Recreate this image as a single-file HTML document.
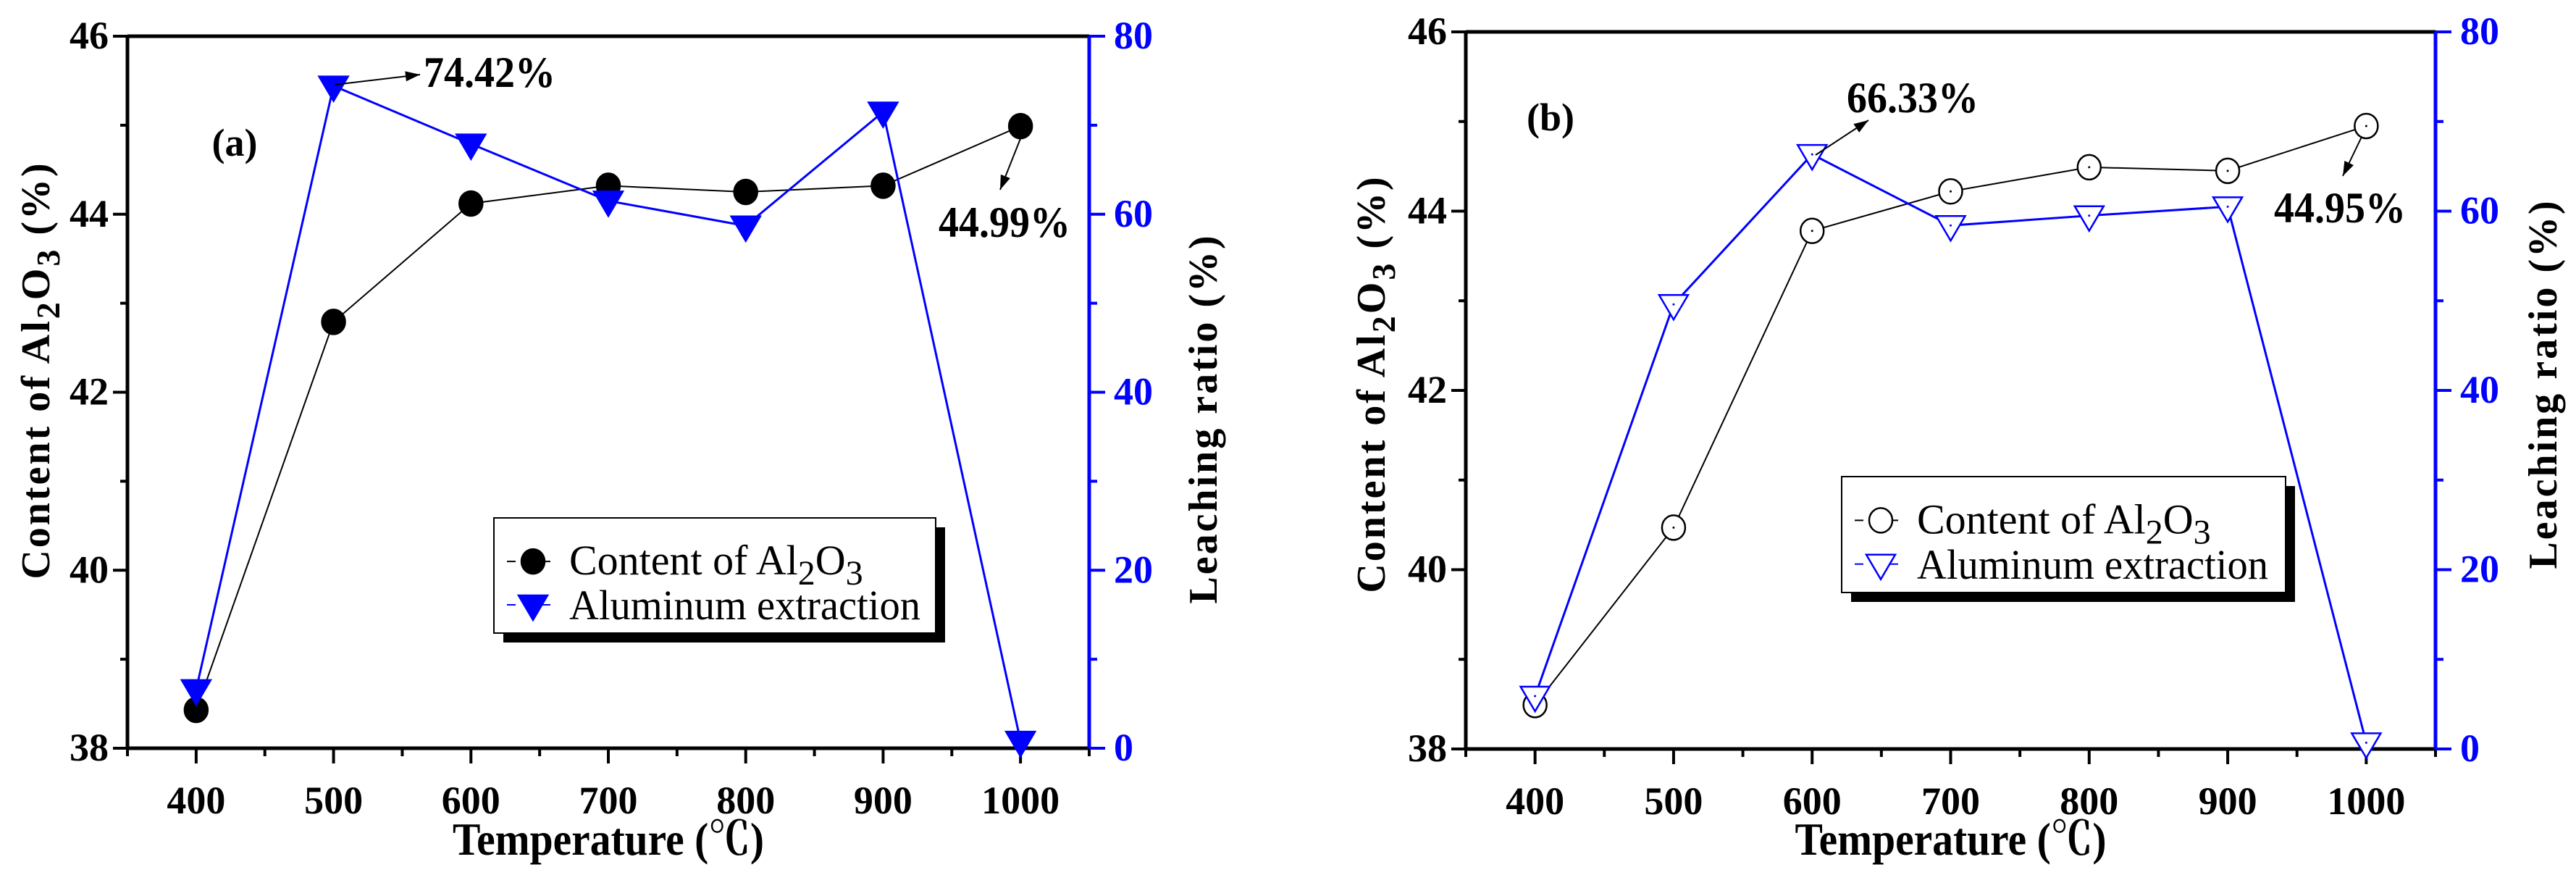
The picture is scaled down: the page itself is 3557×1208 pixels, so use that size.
<!DOCTYPE html>
<html><head><meta charset="utf-8"><style>
html,body{margin:0;padding:0;background:#fff;}
svg{display:block;}
text{font-family:"Liberation Serif","Noto Serif CJK SC",serif;}
</style></head><body>
<svg id="chart" width="3557" height="1208" viewBox="0 0 3557 1208" xmlns="http://www.w3.org/2000/svg"></svg>
<script>
const temperatures = [400, 500, 600, 700, 800, 900, 1000];
const xTicks = [400, 500, 600, 700, 800, 900, 1000];
const leftTicks = [38, 40, 42, 44, 46];
const rightTicks = [0, 20, 40, 60, 80];
const contentA = [38.43, 42.79, 44.12, 44.32, 44.25, 44.32, 44.99];
const extractionA = [6.6, 74.42, 67.9, 61.5, 58.7, 71.5, 0.8];
const contentB = [38.49, 40.47, 43.78, 44.22, 44.49, 44.45, 44.95];
const extractionB = [5.9, 49.6, 66.33, 58.4, 59.5, 60.5, 0.7];

const NS = "http://www.w3.org/2000/svg";
const svg = document.getElementById('chart');
function mk(tag, attrs, parent, txt){
  const e = document.createElementNS(NS, tag);
  for (const k in attrs) e.setAttribute(k, attrs[k]);
  if (txt !== undefined) e.textContent = txt;
  (parent || svg).appendChild(e);
  return e;
}

function panel(cfg){
  const g = mk('g', {});
  
  
  const L = cfg.left, R = cfg.right, T = cfg.top, B = cfg.bottom;
  const xs = v => L + (v - 350) / 700 * (R - L);
  const yl = v => B - (v - 38) / 8 * (B - T);
  const yr = v => B - v / 80 * (B - T);

  const top = mk('line', {x1:L, y1:T, x2:R, y2:T, stroke:'#000','stroke-width':5}, g);
  
  
  const bot = mk('line', {x1:L, y1:B, x2:R, y2:B, stroke:'#000','stroke-width':5}, g);
  
  
  const la = mk('line', {x1:L, y1:T, x2:L, y2:B, stroke:'#000','stroke-width':5}, g);
  
  
  const ra = mk('line', {x1:R, y1:T, x2:R, y2:B+2, stroke:'#0000ff','stroke-width':5}, g);
  
  

  for (let v = 350; v <= 1050; v += 50){
    const major = xTicks.indexOf(v) >= 0;
    mk('line', {x1:xs(v), y1:B, x2:xs(v), y2:B + (major ? 21 : 11), stroke:'#000','stroke-width':4}, g);
  }
  xTicks.forEach(v => {
    const t = mk('text', {x:xs(v), y:B+90, 'text-anchor':'middle','font-size':54,'font-weight':'bold'}, g, String(v));
    
    
  });
  for (let v = 38; v <= 46; v += 1){
    const major = leftTicks.indexOf(v) >= 0;
    mk('line', {x1:L - (major ? 20 : 10), y1:yl(v), x2:L, y2:yl(v), stroke:'#000','stroke-width':4}, g);
  }
  leftTicks.forEach(v => {
    const t = mk('text', {x:L-26, y:yl(v)+17, 'text-anchor':'end','font-size':54,'font-weight':'bold'}, g, String(v));
    
    
  });
  for (let v = 0; v <= 80; v += 10){
    const major = rightTicks.indexOf(v) >= 0;
    mk('line', {x1:R, y1:yr(v), x2:R + (major ? 22 : 11), y2:yr(v), stroke:'#0000ff','stroke-width':4}, g);
  }
  rightTicks.forEach(v => {
    const t = mk('text', {x:R+34, y:yr(v)+17, 'text-anchor':'start','font-size':54,'font-weight':'bold',fill:'#0000ff'}, g, String(v));
    
    
  });

  const xt = mk('text', {x:(L+R)/2, y:1180, 'text-anchor':'middle','font-size':64,'font-weight':'bold', textLength:430, lengthAdjust:'spacingAndGlyphs'}, g, 'Temperature (℃)');
  
  
  const ylt = mk('text', {transform:`translate(${cfg.ylx},${cfg.ylc}) rotate(-90)`, 'text-anchor':'middle','font-size':56,'font-weight':'bold', 'letter-spacing':3}, g);
  
  
  mk('tspan', {}, ylt, 'Content of Al');
  mk('tspan', {dy:14,'font-size':46}, ylt, '2');
  mk('tspan', {dy:-14}, ylt, 'O');
  mk('tspan', {dy:14,'font-size':46}, ylt, '3');
  mk('tspan', {dy:-14}, ylt, ' (%)');
  const yrt = mk('text', {transform:`translate(${cfg.yrx},${cfg.yrc}) rotate(-90)`, 'text-anchor':'middle','font-size':56,'font-weight':'bold','letter-spacing':3}, g, 'Leaching ratio (%)');
  
  

  const cp = temperatures.map((t,i) => xs(t)+','+yl(cfg.content[i])).join(' ');
  const cl = mk('polyline', {points:cp, fill:'none', stroke:'#000','stroke-width':2}, g);
  
  
  const ep = temperatures.map((t,i) => xs(t)+','+yr(cfg.extraction[i])).join(' ');
  const el = mk('polyline', {points:ep, fill:'none', stroke:'#0000ff','stroke-width':3}, g);
  
  

  temperatures.forEach((t,i) => {
    const x = xs(t), y = yl(cfg.content[i]);
    const c = mk('ellipse', {cx:x, cy:y, rx:16, ry:17, fill: cfg.open ? '#fff' : '#000', stroke:'#000','stroke-width':2.5}, g);
    
    
    if (cfg.open) mk('circle', {cx:x, cy:y, r:1.5, fill:'#000'}, g);
  });
  temperatures.forEach((t,i) => {
    const x = xs(t), y = yr(cfg.extraction[i]);
    const p = mk('polygon', {points:`${x-20},${y-13} ${x+20},${y-13} ${x},${y+21}`, fill: cfg.open ? '#fff' : '#0000ff', stroke:'#0000ff','stroke-width':2.5}, g);
    
    
    if (cfg.open) mk('circle', {cx:x, cy:y, r:1.5, fill:'#0000ff'}, g);
  });

  const pl = mk('text', {x:cfg.plx, y:cfg.ply, 'text-anchor':'middle','font-size':54,'font-weight':'bold'}, g, cfg.label);
  
  

  cfg.notes.forEach(n => {
    const a = mk('line', {x1:n.x1, y1:n.y1, x2:n.x2, y2:n.y2, stroke:'#000','stroke-width':2}, g);
    
    
    const ang = Math.atan2(n.y2-n.y1, n.x2-n.x1);
    const hx = n.x2, hy = n.y2, s = 20, w = 7;
    const bx = hx - s*Math.cos(ang), by = hy - s*Math.sin(ang);
    mk('polygon', {points:`${hx},${hy} ${bx - w*Math.sin(ang)},${by + w*Math.cos(ang)} ${bx + w*Math.sin(ang)},${by - w*Math.cos(ang)}`, fill:'#000'}, g);
    const tx = mk('text', {x:n.tx, y:n.ty, 'text-anchor':'start','font-size':60,'font-weight':'bold', textLength:n.tw, lengthAdjust:'spacingAndGlyphs'}, g, n.text);
    
    
  });

  const lg = mk('g', {}, g);
  
  
  const lx = cfg.lgx, ly = cfg.lgy, lw = cfg.lgw, lh = cfg.lgh;
  mk('rect', {x:lx+13, y:ly+13, width:lw, height:lh, fill:'#000'}, lg);
  mk('rect', {x:lx, y:ly, width:lw, height:lh, fill:'#fff', stroke:'#000','stroke-width':2}, lg);
  const r1 = ly + lh*0.29, r2 = ly + lh*0.78;
  const e1 = mk('g', {}, lg);
  
  
  mk('line', {x1:lx+18, y1:r1+14, x2:lx+90, y2:r1+14, stroke:'#000','stroke-width':2,'stroke-dasharray':'12 36'}, e1);
  mk('ellipse', {cx:lx+54, cy:r1+14, rx:16, ry:17, fill: cfg.open ? '#fff':'#000', stroke:'#000','stroke-width':2.5}, e1);
  const t1 = mk('text', {x:lx+104, y:r1+32, 'font-size':58}, e1);
  mk('tspan', {}, t1, 'Content of Al');
  mk('tspan', {dy:14,'font-size':48}, t1, '2');
  mk('tspan', {dy:-14}, t1, 'O');
  mk('tspan', {dy:14,'font-size':48}, t1, '3');
  const e2 = mk('g', {}, lg);
  
  
  mk('line', {x1:lx+18, y1:r2-4, x2:lx+90, y2:r2-4, stroke:'#0000ff','stroke-width':2,'stroke-dasharray':'12 36'}, e2);
  mk('polygon', {points:`${lx+34},${r2-17} ${lx+74},${r2-17} ${lx+54},${r2+17}`, fill: cfg.open ? '#fff':'#0000ff', stroke:'#0000ff','stroke-width':2.5}, e2);
  mk('text', {x:lx+104, y:r2+16, 'font-size':58, textLength:cfg.lgtw, lengthAdjust:'spacingAndGlyphs'}, e2, 'Aluminum extraction');
}

panel({id:'a', left:176, right:1504, top:50, bottom:1033, content:contentA, extraction:extractionA, open:false,
  label:'(a)', plx:324, ply:215, ylx:68, ylc:511, yrx:1680, yrc:578,
  lgx:682, lgy:715, lgw:610, lgh:159, lgtw:485,
  notes:[{x1:462,y1:117,x2:580,y2:103,text:'74.42%',tx:585,ty:120,tw:182},
         {x1:1410,y1:189,x2:1381,y2:262,text:'44.99%',tx:1296,ty:327,tw:182}]});
panel({id:'b', left:2024, right:3363, top:44, bottom:1034, content:contentB, extraction:extractionB, open:true,
  label:'(b)', plx:2141, ply:180, ylx:1912, ylc:530, yrx:3530, yrc:530,
  lgx:2543, lgy:658, lgw:613, lgh:160, lgtw:485,
  notes:[{x1:2507,y1:214,x2:2580,y2:166,text:'66.33%',tx:2550,ty:155,tw:182},
         {x1:3261,y1:189,x2:3235,y2:243,text:'44.95%',tx:3140,ty:307,tw:182}]});
</script>
</body></html>
